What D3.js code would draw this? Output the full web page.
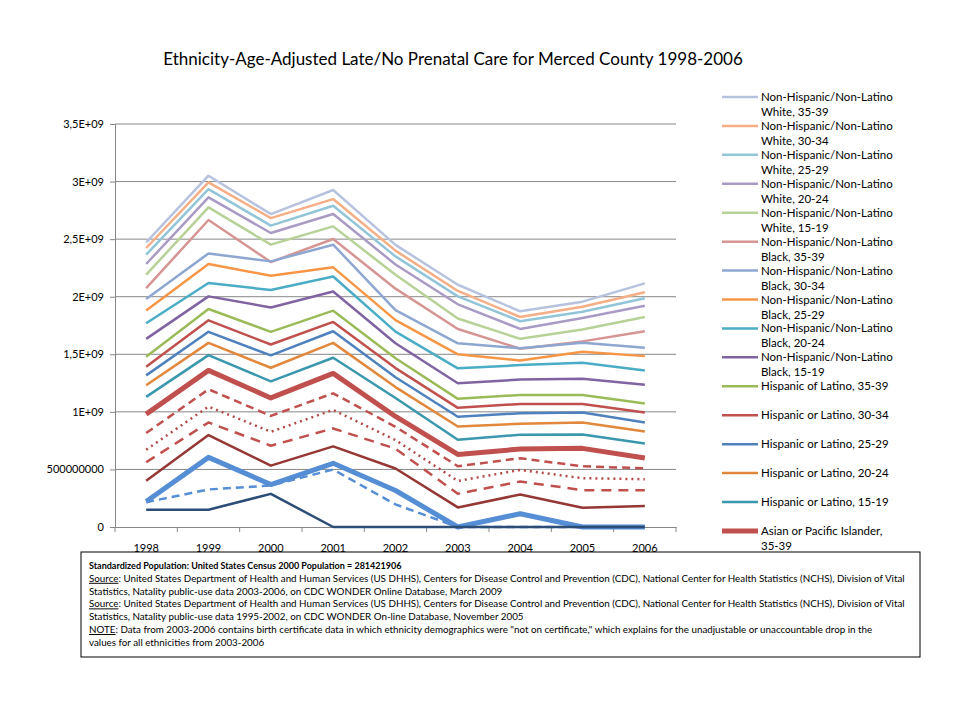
<!DOCTYPE html>
<html>
<head>
<meta charset="utf-8">
<script src="https://cdn.jsdelivr.net/npm/d3@7"></script>
<style>
    body { margin: 0; background: #fff; }
    svg text { font-family: Lato, 'Liberation Sans', sans-serif; fill: #000; }
</style>
</head>
<body>
<svg id="chart" width="960" height="720"></svg>
<script>
/**
 */
const years = [1998, 1999, 2000, 2001, 2002, 2003, 2004, 2005, 2006];

const yTickValues = [0, 0.5, 1, 1.5, 2, 2.5, 3, 3.5];
const yTickLabels = ['0', '500000000', '1E+09', '1,5E+09', '2E+09', '2,5E+09', '3E+09', '3,5E+09'];

const seriesNames = [
    'Non-Hispanic/Non-Latino White, 35-39',
    'Non-Hispanic/Non-Latino White, 30-34',
    'Non-Hispanic/Non-Latino White, 25-29',
    'Non-Hispanic/Non-Latino White, 20-24',
    'Non-Hispanic/Non-Latino White, 15-19',
    'Non-Hispanic/Non-Latino Black, 35-39',
    'Non-Hispanic/Non-Latino Black, 30-34',
    'Non-Hispanic/Non-Latino Black, 25-29',
    'Non-Hispanic/Non-Latino Black, 20-24',
    'Non-Hispanic/Non-Latino Black, 15-19',
    'Hispanic of Latino, 35-39',
    'Hispanic or Latino, 30-34',
    'Hispanic or Latino, 25-29',
    'Hispanic or Latino, 20-24',
    'Hispanic or Latino, 15-19',
    'Asian or Pacific Islander, 35-39',
    'Asian or Pacific Islander, 30-34',
    'Asian or Pacific Islander, 25-29',
    'Asian or Pacific Islander, 20-24',
    'Asian or Pacific Islander, 15-19',
    'American Indian or Alaska Native, 35-39',
    'American Indian or Alaska Native, 30-34',
    'American Indian or Alaska Native, 25-29'
];

const whiteValues = [
    [2.472, 3.051, 2.718, 2.927, 2.450, 2.104, 1.873, 1.957, 2.116],
    [2.423, 2.993, 2.683, 2.848, 2.400, 2.050, 1.824, 1.913, 2.038],
    [2.365, 2.935, 2.617, 2.790, 2.350, 2.003, 1.787, 1.870, 1.986],
    [2.284, 2.863, 2.553, 2.718, 2.280, 1.934, 1.720, 1.816, 1.922],
    [2.191, 2.776, 2.452, 2.611, 2.190, 1.811, 1.634, 1.715, 1.824]
];

const blackValues = [
    [2.075, 2.666, 2.301, 2.501, 2.070, 1.720, 1.548, 1.612, 1.700],
    [1.980, 2.376, 2.307, 2.452, 1.883, 1.595, 1.552, 1.600, 1.556],
    [1.880, 2.284, 2.182, 2.255, 1.797, 1.500, 1.447, 1.522, 1.484],
    [1.770, 2.119, 2.058, 2.176, 1.697, 1.378, 1.406, 1.427, 1.360],
    [1.634, 2.003, 1.907, 2.046, 1.596, 1.248, 1.280, 1.288, 1.236]
];

const hispanicValues = [
    [1.478, 1.893, 1.695, 1.879, 1.465, 1.113, 1.147, 1.147, 1.072],
    [1.392, 1.795, 1.585, 1.781, 1.380, 1.035, 1.069, 1.069, 0.994],
    [1.317, 1.695, 1.490, 1.700, 1.300, 0.958, 0.988, 0.994, 0.908],
    [1.231, 1.599, 1.383, 1.599, 1.215, 0.873, 0.896, 0.908, 0.830],
    [1.130, 1.493, 1.265, 1.470, 1.120, 0.758, 0.801, 0.804, 0.726]
];

const asianValues = [
    [0.980, 1.360, 1.121, 1.334, 0.960, 0.630, 0.677, 0.683, 0.599],
    [0.816, 1.196, 0.965, 1.161, 0.870, 0.528, 0.597, 0.527, 0.510],
    [0.671, 1.046, 0.827, 1.017, 0.755, 0.400, 0.496, 0.424, 0.415],
    [0.562, 0.908, 0.706, 0.856, 0.680, 0.288, 0.395, 0.320, 0.320],
    [0.401, 0.798, 0.533, 0.700, 0.508, 0.170, 0.282, 0.167, 0.182]
];

const nativeValues = [
    [0.222, 0.605, 0.369, 0.553, 0.317, 0, 0.115, 0, 0],
    [0.215, 0.326, 0.360, 0.499, 0.196, 0, 0, 0, 0],
    [0.150, 0.150, 0.288, 0, 0, 0, 0, 0, 0]
];

const footnoteLines = [
    [{ text: 'Standardized Population: United States Census 2000 Population = 281421906', bold: true }],
    [{ text: 'Source', underline: true }, { text: ': United States Department of Health and Human Services (US DHHS), Centers for Disease Control and Prevention (CDC), National Center for Health Statistics (NCHS), Division of Vital' }],
    [{ text: 'Statistics, Natality public-use data 2003-2006, on CDC WONDER Online Database, March 2009' }],
    [{ text: 'Source', underline: true }, { text: ': United States Department of Health and Human Services (US DHHS), Centers for Disease Control and Prevention (CDC), National Center for Health Statistics (NCHS), Division of Vital' }],
    [{ text: 'Statistics, Natality public-use data 1995-2002, on CDC WONDER On-line Database, November 2005' }],
    [{ text: 'NOTE', underline: true }, { text: ': Data from 2003-2006 contains birth certificate data in which ethnicity demographics were "not on certificate," which explains for the unadjustable or unaccountable drop in the' }],
    [{ text: 'values for all ethnicities from 2003-2006' }]
];

/**
 * Visual configs.
 */
const UNIT = 1e9;
const plot = { left: 115, right: 676, top: 124, bottom: 527 },
    legend = { x1: 722, x2: 758, textX: 761, top: 97, gap: 28.93, lineGap: 15, wrap: 150 },
    box = { x: 81, y: 552, width: 839, height: 105 };

// Stroke per series, in draw order
const seriesStyles = [
    { color: '#b7c3de', width: 2.5 },
    { color: '#f5ae86', width: 2.5 },
    { color: '#93c5d9', width: 2.5 },
    { color: '#a99bc3', width: 2.5 },
    { color: '#b7d197', width: 2.5 },
    { color: '#d59593', width: 2.5 },
    { color: '#8ea7d0', width: 2.5 },
    { color: '#f79646', width: 2.5 },
    { color: '#4bacc6', width: 2.5 },
    { color: '#8064a2', width: 2.5 },
    { color: '#9bbb59', width: 2.5 },
    { color: '#c0504d', width: 2.5 },
    { color: '#4f81bd', width: 2.5 },
    { color: '#e2883c', width: 2.5 },
    { color: '#3a97ad', width: 2.5 },
    { color: '#c0504d', width: 5 },
    { color: '#c0504d', width: 2.5, dash: '8,5' },
    { color: '#b34a47', width: 2.5, dash: '2,4' },
    { color: '#c0504d', width: 2.5, dash: '10,7' },
    { color: '#953735', width: 2.5 },
    { color: '#558ed5', width: 5 },
    { color: '#558ed5', width: 2.5, dash: '8,5' },
    { color: '#2c4d75', width: 2.5 }
];

const allValues = [].concat(whiteValues, blackValues, hispanicValues, asianValues, nativeValues);
const series = seriesNames.map((name, i) => ({
    name: name,
    values: allValues[i].map((v, j) => ({ year: years[j], value: v * UNIT })),
    style: seriesStyles[i]
}));

/**
 * D3.
 */
const svg = d3.select('#chart');

const xBand = d3.scaleBand().domain(years).range([plot.left, plot.right]),
    xScale = d => xBand(d) + xBand.bandwidth() / 2,
    yScale = d3.scaleLinear().domain([0, 3.5 * UNIT]).range([plot.bottom, plot.top]);

// Title
svg.append('text')
    .attr('x', 453).attr('y', 65)
    .attr('text-anchor', 'middle')
    .style('font-size', '17px')
    .text('Ethnicity-Age-Adjusted Late/No Prenatal Care for Merced County 1998-2006');

// Gridlines
svg.append('g').attr('class', 'grid')
    .selectAll('line').data(yTickValues.slice(1)).join('line')
    .attr('x1', plot.left).attr('x2', plot.right)
    .attr('y1', d => yScale(d * UNIT)).attr('y2', d => yScale(d * UNIT))
    .attr('stroke', '#878787').attr('stroke-width', 1);

// Y axis
const yAxis = d3.axisLeft(yScale)
    .tickValues(yTickValues.map(d => d * UNIT))
    .tickFormat((d, i) => yTickLabels[i])
    .tickSize(5).tickPadding(6);
svg.append('g')
    .attr('transform', 'translate(' + plot.left + ',0)')
    .call(yAxis)
    .call(g => {
        g.select('.domain').attr('stroke', '#878787');
        g.selectAll('.tick line').attr('stroke', '#878787');
        g.selectAll('.tick text').style('font-size', '11px').style('font-family', 'Lato');
    });

// X axis: labels at category centres, tick marks between categories
const xAxis = d3.axisBottom(xBand).tickSize(0).tickPadding(17);
svg.append('g')
    .attr('transform', 'translate(0,' + plot.bottom + ')')
    .call(xAxis)
    .call(g => {
        g.select('.domain').attr('stroke', '#878787');
        g.selectAll('.tick text').style('font-size', '11px').style('font-family', 'Lato');
    });
svg.append('g').attr('class', 'x-ticks')
    .selectAll('line').data(years.map(xBand).concat([plot.right])).join('line')
    .attr('x1', d => d).attr('x2', d => d)
    .attr('y1', plot.bottom).attr('y2', plot.bottom + 5)
    .attr('stroke', '#878787');

// Series lines
const line = d3.line()
    .x(d => xScale(d.year))
    .y(d => yScale(d.value));

svg.append('g').attr('class', 'series')
    .selectAll('path').data(series).join('path')
    .attr('d', d => line(d.values))
    .attr('fill', 'none')
    .attr('stroke', d => d.style.color)
    .attr('stroke-width', d => d.style.width)
    .attr('stroke-dasharray', d => d.style.dash || null)
    .attr('stroke-linejoin', 'round');

/**
 * Legend. Excel runs out of room, only the entries above the footnote show.
 */
const legendData = series.filter((d, i) => legend.top + legend.gap * i < box.y);
const items = svg.append('g').attr('class', 'legend')
    .selectAll('g').data(legendData).join('g')
    .attr('transform', (d, i) => 'translate(0,' + (legend.top + legend.gap * i) + ')');

items.append('line')
    .attr('x1', legend.x1).attr('x2', legend.x2)
    .attr('stroke', d => d.style.color)
    .attr('stroke-width', d => d.style.width);

items.append('text')
    .attr('x', legend.textX)
    .attr('y', 4)
    .style('font-size', '11.5px')
    .each(function(d) { wrapText(d3.select(this), d.name, legend.wrap, legend.lineGap); });

function wrapText(text, str, maxWidth, lineGap) {
    const words = str.split(' ');
    let lineWords = [];
    let tspan = text.append('tspan').attr('x', legend.textX).attr('dy', 0);
    words.forEach(w => {
        lineWords.push(w);
        tspan.text(lineWords.join(' '));
        if (tspan.node().getComputedTextLength() > maxWidth && lineWords.length > 1) {
            lineWords.pop();
            tspan.text(lineWords.join(' '));
            lineWords = [w];
            tspan = text.append('tspan').attr('x', legend.textX).attr('dy', lineGap).text(w);
        }
    });
}

/**
 * Footnote box.
 */
svg.append('rect')
    .attr('x', box.x).attr('y', box.y)
    .attr('width', box.width).attr('height', box.height)
    .attr('fill', '#fff').attr('stroke', '#000').attr('stroke-width', 1);

const notes = svg.append('g').attr('class', 'notes')
    .selectAll('text').data(footnoteLines).join('text')
    .attr('x', box.x + 8)
    .attr('y', (d, i) => box.y + 17 + i * 12.8)
    .style('font-size', d => d[0].bold ? '9px' : '9.8px');

notes.selectAll('tspan').data(d => d).join('tspan')
    .style('font-weight', d => d.bold ? 'bold' : null)
    .style('text-decoration', d => d.underline ? 'underline' : null)
    .text(d => d.text);
</script>
</body>
</html>
